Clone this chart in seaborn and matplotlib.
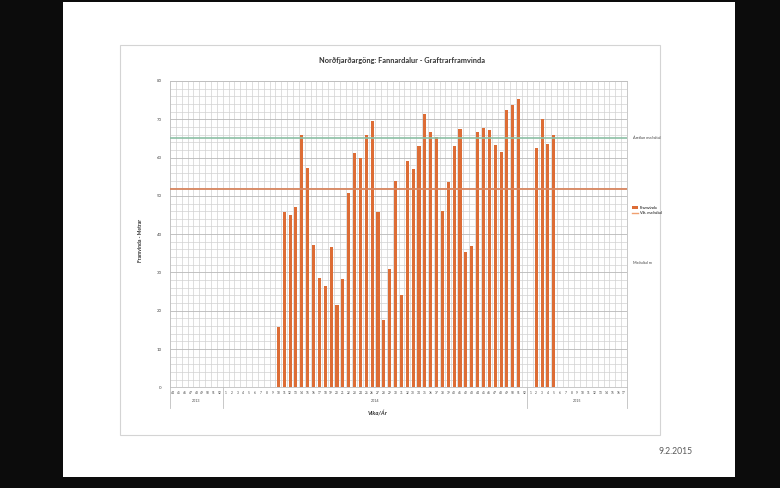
import matplotlib
matplotlib.use("Agg")
import matplotlib.pyplot as plt
import seaborn as sns
import numpy as np
import pandas as pd
from matplotlib.patches import Rectangle, Patch
from matplotlib.lines import Line2D

# ---------------- data ----------------
weeks_2013 = list(range(44, 53))
weeks_2014 = list(range(1, 53))
weeks_2015 = list(range(1, 18))

progress_weeks_2014 = list(range(10, 52))
progress_2014 = [15.7, 45.8, 45.0, 47.2, 65.9, 57.2, 37.2, 28.5, 26.4, 36.6,
                 21.5, 28.3, 50.7, 61.1, 59.8, 65.9, 69.6, 45.8, 17.7, 31.0,
                 54.0, 24.2, 59.1, 57.1, 62.9, 71.5, 66.8, 65.3, 46.0, 53.7,
                 63.0, 67.4, 35.4, 37.0, 66.7, 67.6, 67.2, 63.3, 61.5, 72.4,
                 73.7, 75.2]
progress_weeks_2015 = [2, 3, 4, 5]
progress_2015 = [62.4, 70.0, 63.5, 65.9]

plan_average = 65.0
actual_average = 51.8

title = "Norðfjarðargöng: Fannardalur - Graftrarframvinda"
ylabel = "Framvinda - Metrar"
xlabel = "Vika/Ár"
legend_labels = ["Framvinda", "Vik. meðaltal"]
plan_label = "Áætlun meðaltal"
extra_label = "Meðaltal m"
slide_date = "9.2.2015"

# ---------------- build table ----------------
keys, tick_labels, year_of = [], [], []
for yr, wk in ((2013, weeks_2013), (2014, weeks_2014), (2015, weeks_2015)):
    for w in wk:
        keys.append(f"{yr}-{w}")
        tick_labels.append(str(w))
        year_of.append(yr)

rows = [(f"2014-{w}", v) for w, v in zip(progress_weeks_2014, progress_2014)]
rows += [(f"2015-{w}", v) for w, v in zip(progress_weeks_2015, progress_2015)]
df = pd.DataFrame(rows, columns=["key", "value"])

# ---------------- figure ----------------
W, H = 780, 488
fig = plt.figure(figsize=(W / 100, H / 100), dpi=100)
fig.patch.set_facecolor("#0c0c0c")

def fx(x):
    return x / W

def fy(y):
    return 1 - y / H

# slide
fig.patches.append(Rectangle((fx(63), fy(477)), fx(735) - fx(63), fy(2) - fy(477),
                             transform=fig.transFigure, facecolor="white",
                             edgecolor="none", zorder=-3))
# chart box
fig.patches.append(Rectangle((fx(120), fy(435)), fx(660) - fx(120), fy(45) - fy(435),
                             transform=fig.transFigure, facecolor="white",
                             edgecolor="#d4d4d4", lw=0.8, zorder=-2))

plt.rcParams['font.family'] = ['Lato', 'DejaVu Sans']

ax = fig.add_axes([fx(170), fy(387.3), fx(627) - fx(170), fy(81) - fy(387.3)])
ax.set_facecolor("white")

bar_color = "#dd6d36"
sns.barplot(data=df, x="key", y="value", order=keys, color=bar_color,
            saturation=1, width=0.52, ax=ax, zorder=3, errorbar=None)

ax.axhline(plan_average, color="#8cc0a5", lw=1.2, zorder=4)
ax.axhline(actual_average, color="#d8865f", lw=1.3, zorder=4)

n = len(keys)
ax.set_xlim(-0.5, n - 0.5)
ax.set_ylim(0, 80)
ax.set_yticks(np.arange(0, 81, 10))
ax.set_yticks(np.arange(0, 81, 2), minor=True)
ax.set_xticks(range(n))
ax.set_xticklabels(tick_labels, fontsize=2.3, color="#444444")
ax.set_xticks(np.arange(-0.5, n, 1.0), minor=True)
ax.tick_params(axis="y", labelsize=3.2, colors="#444444", length=0, pad=6)
ax.tick_params(axis="x", length=0, pad=3)
ax.tick_params(which="minor", length=0)

ax.grid(which="minor", axis="both", color="#d2d2d2", lw=0.5, zorder=0)
ax.grid(which="major", axis="y", color="#b8b8b8", lw=0.6, zorder=0)
ax.grid(which="major", axis="x", visible=False)
ax.set_axisbelow(True)

for s in ax.spines.values():
    s.set_color("#bfbfbf")
    s.set_linewidth(0.6)

ax.set_xlabel("")
ax.set_ylabel("")

# year group separators & labels
bounds = [-0.5, len(weeks_2013) - 0.5, len(weeks_2013) + len(weeks_2014) - 0.5, n - 0.5]
for b in bounds:
    ax.plot([b, b], [0, -0.066], color="#bfbfbf", lw=0.6,
            transform=ax.get_xaxis_transform(), clip_on=False)
for yr, a, b in zip((2013, 2014, 2015), bounds[:-1], bounds[1:]):
    ax.text((a + b) / 2, -0.045, str(yr), transform=ax.get_xaxis_transform(),
            ha="center", va="center", fontsize=2.6, color="#444444")

# texts
fig.text(fx(402), fy(60), title, ha="center", va="center", fontsize=5.3,
         fontweight="bold", color="#333333")
fig.text(fx(140), fy(240), ylabel, ha="center", va="center", rotation=90,
         fontsize=3.6, fontweight="bold", color="#333333")
fig.text(fx(378), fy(413), xlabel, ha="center", va="center", fontsize=4.2,
         fontweight="bold", style="italic", color="#333333")

fig.text(fx(633), fy(138), plan_label, ha="left", va="center", fontsize=2.8, color="#444444")
fig.text(fx(633), fy(263), extra_label, ha="left", va="center", fontsize=2.8, color="#444444")

handles = [Patch(facecolor=bar_color, edgecolor="none"),
           Line2D([0], [0], color="#f0a070", lw=1.0)]
fig.legend(handles, legend_labels, loc="upper left",
           bbox_to_anchor=(fx(630), fy(204)), frameon=False, fontsize=2.8,
           handlelength=1.6, handleheight=0.8, handletextpad=0.4,
           labelspacing=0.4, borderpad=0)

fig.text(fx(676), fy(452), slide_date, ha="center", va="center", fontsize=6.2,
         color="#595959")

fig.savefig("out.png", dpi=100, facecolor=fig.get_facecolor())
